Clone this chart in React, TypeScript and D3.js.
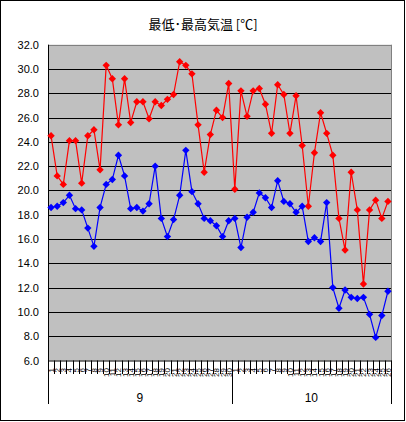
import React from "react";
import * as d3 from "d3";

const sepDays = Array.from({ length: 30 }, (_, i) => String(i + 1));
const octDays = Array.from({ length: 26 }, (_, i) => String(i + 1));
const dayLabels = [...sepDays, ...octDays];
const months = [
  { label: "9", count: 30 },
  { label: "10", count: 26 },
];

const maxTemps = [
  24.5, 21.2, 20.5, 24.1, 24.1, 20.6, 24.5, 25.0, 21.7, 30.3,
  29.2, 25.4, 29.2, 25.6, 27.3, 27.3, 25.9, 27.3, 27.0, 27.5,
  27.9, 30.6, 30.3, 29.6, 25.4, 21.5, 24.6, 26.6, 26.0, 28.8,
  20.1, 28.2, 26.1, 28.2, 28.4, 27.1, 24.7, 28.7, 27.9, 24.7,
  27.8, 23.7, 18.7, 23.1, 26.4, 24.7, 22.9, 17.7, 15.1, 21.5,
  18.4, 12.3, 18.4, 19.2, 17.7, 19.1,
];
const minTemps = [
  18.6, 18.7, 19.0, 19.6, 18.5, 18.4, 16.9, 15.4, 18.6, 20.5,
  20.9, 22.9, 21.2, 18.5, 18.6, 18.3, 18.9, 22.0, 17.7, 16.2,
  17.6, 19.6, 23.3, 19.9, 18.9, 17.7, 17.5, 17.1, 16.2, 17.5,
  17.7, 15.3, 17.8, 18.2, 19.8, 19.4, 18.6, 20.8, 19.1, 18.9,
  18.2, 18.7, 15.8, 16.1, 15.8, 19.0, 12.0, 10.3, 11.8, 11.2,
  11.1, 11.2, 9.8, 7.9, 9.7, 11.7,
];
const yTicks = d3.range(6, 32.01, 2);
const title = "最低･最高気温 [℃]";

const W = 406;
const H = 422;
const plot = { left: 48, right: 391, top: 44.7, bottom: 360.5 };

export default function App() {
  const n = dayLabels.length;
  const x = d3
    .scaleBand<number>()
    .domain(d3.range(n))
    .range([plot.left, plot.right])
    .paddingInner(0)
    .paddingOuter(0);
  const y = d3.scaleLinear().domain([6, 32]).range([plot.bottom, plot.top]);
  const cx = (i: number) => (x(i) as number) + x.bandwidth() / 2;
  const line = d3
    .line<number>()
    .x((_, i) => cx(i))
    .y((d) => y(d));
  const diamond = (px: number, py: number, r = 3.7) =>
    `M${px},${py - r}L${px + r},${py}L${px},${py + r}L${px - r},${py}Z`;

  let acc = 0;
  const monthBounds = months.map((m) => {
    const start = acc;
    acc += m.count;
    return { ...m, x0: x(start) as number, x1: start + m.count >= n ? plot.right : (x(start + m.count) as number) };
  });

  const font = "'Liberation Sans', Arial, sans-serif";

  return (
    <svg
      width={W}
      height={H}
      style={{ position: "absolute", left: 0, top: 0, background: "#fff" }}
    >
      <rect x={0.5} y={0.5} width={404} height={420} fill="#fff" stroke="#000" />
      <text
        x={203}
        y={29}
        textAnchor="middle"
        fontFamily="'Noto Sans CJK JP', sans-serif"
        fontSize={13}
        fill="#000"
      >
        {title}
      </text>
      <rect
        x={plot.left}
        y={plot.top}
        width={plot.right - plot.left}
        height={plot.bottom - plot.top}
        fill="#C0C0C0"
      />
      {yTicks.map((t) => (
        <g key={t}>
          {t > 6 && t < 32 && (
            <line
              x1={plot.left}
              x2={plot.right}
              y1={Math.round(y(t)) + 0.5}
              y2={Math.round(y(t)) + 0.5}
              stroke="#000"
            />
          )}
          <text
            x={39}
            y={y(t) + 4}
            textAnchor="end"
            fontFamily={font}
            fontSize={11}
            fill="#000"
          >
            {t.toFixed(1)}
          </text>
        </g>
      ))}
      <line x1={plot.left} x2={plot.right} y1={Math.round(plot.top) + 0.5} y2={Math.round(plot.top) + 0.5} stroke="#808080" />
      <line x1={plot.right + 0.5} x2={plot.right + 0.5} y1={plot.top} y2={plot.bottom} stroke="#808080" />
      <line x1={plot.left + 0.5} x2={plot.left + 0.5} y1={plot.top} y2={404} stroke="#000" />
      <line x1={plot.left} x2={plot.right + 1} y1={plot.bottom + 0.5} y2={plot.bottom + 0.5} stroke="#000" />
      {d3.range(1, n).map((i) => (
        <line
          key={i}
          x1={Math.round(x(i) as number) + 0.5}
          x2={Math.round(x(i) as number) + 0.5}
          y1={plot.bottom}
          y2={374}
          stroke="#000"
        />
      ))}
      {dayLabels.map((d, i) => (
        <text
          key={i}
          transform={`translate(${cx(i) + 3},368) rotate(-90)`}
          textAnchor="end"
          fontFamily={font}
          fontSize={8}
          fill="#000"
        >
          {d}
        </text>
      ))}
      {monthBounds.map((m, k) => (
        <g key={k}>
          <line
            x1={Math.round(m.x1) + 0.5}
            x2={Math.round(m.x1) + 0.5}
            y1={plot.bottom}
            y2={404}
            stroke="#000"
          />
          <text
            x={(m.x0 + m.x1) / 2}
            y={402}
            textAnchor="middle"
            fontFamily={font}
            fontSize={12}
            fill="#000"
          >
            {m.label}
          </text>
        </g>
      ))}
      <path d={line(maxTemps) || ""} fill="none" stroke="#FF0000" strokeWidth={1.2} />
      <path d={line(minTemps) || ""} fill="none" stroke="#0000FF" strokeWidth={1.2} />
      {maxTemps.map((v, i) => (
        <path key={"r" + i} d={diamond(cx(i), y(v))} fill="#FF0000" />
      ))}
      {minTemps.map((v, i) => (
        <path key={"b" + i} d={diamond(cx(i), y(v))} fill="#0000FF" />
      ))}
    </svg>
  );
}
